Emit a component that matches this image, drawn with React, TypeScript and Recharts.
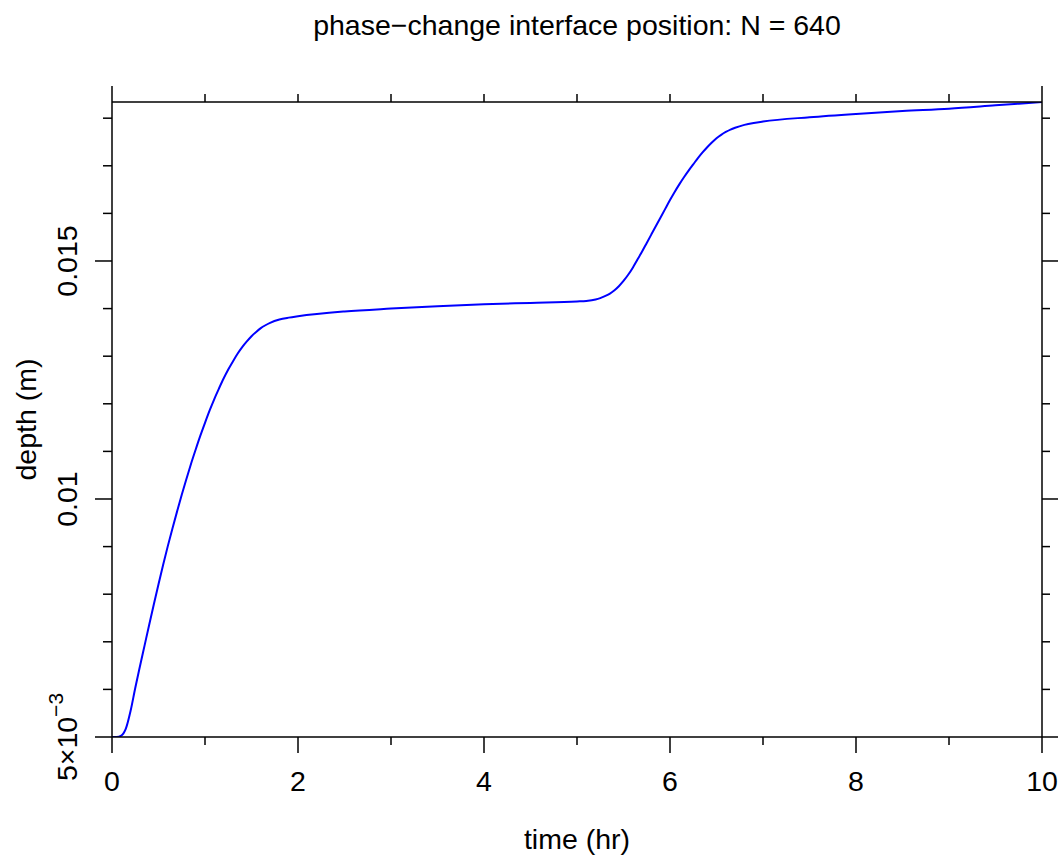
import { LineChart, Line, XAxis, YAxis } from "recharts";

const time = [
  0, 0.05, 0.1, 0.15, 0.2, 0.25, 0.3, 0.35, 0.4, 0.45, 0.5, 0.55, 0.6, 0.65, 0.7, 0.75, 0.8, 0.85, 0.9, 0.95,
  1.0, 1.05, 1.1, 1.15, 1.2, 1.25, 1.3, 1.35, 1.4, 1.45, 1.5, 1.55, 1.6, 1.65, 1.7, 1.8, 1.9, 2.0, 2.5, 3.0,
  3.5, 4.0, 4.5, 5.0, 5.1, 5.2, 5.25, 5.3, 5.35, 5.4, 5.45, 5.5, 5.55, 5.6, 5.65, 5.7, 5.75, 5.8, 5.85, 5.9,
  5.95, 6.0, 6.05, 6.1, 6.15, 6.2, 6.25, 6.3, 6.35, 6.4, 6.45, 6.5, 6.55, 6.6, 6.65, 6.7, 6.8, 6.9, 7.0, 7.5,
  8.0, 8.5, 9.0, 9.5, 10,
];
const depth = [
  0.005, 0.005, 0.00503, 0.00518, 0.00555, 0.00603, 0.00648, 0.00692, 0.00736, 0.00779, 0.00821, 0.00862,
  0.00901, 0.00938, 0.00974, 0.01009, 0.01042, 0.01074, 0.01104, 0.01133, 0.0116, 0.01186, 0.0121, 0.01232,
  0.01253, 0.01272, 0.01289, 0.01305, 0.01319, 0.01331, 0.01342, 0.01351, 0.01359, 0.01365, 0.0137, 0.01377,
  0.01381, 0.01384, 0.01394, 0.014, 0.01405, 0.01409, 0.01412, 0.01415, 0.01416, 0.01419, 0.01422, 0.01426,
  0.01431, 0.01438, 0.01447, 0.01458, 0.01471, 0.01486, 0.01503, 0.0152, 0.01538, 0.01556, 0.01574, 0.01592,
  0.0161, 0.01628, 0.01645, 0.01661, 0.01676, 0.0169, 0.01703, 0.01716, 0.01728, 0.01739, 0.01749, 0.01758,
  0.01765, 0.01771, 0.01776, 0.0178, 0.01786, 0.0179, 0.01793, 0.01802, 0.01809, 0.01815, 0.0182, 0.01827,
  0.01834,
];

const xTicks = [0, 1, 2, 3, 4, 5, 6, 7, 8, 9, 10];
const xLabels = ["0", "2", "4", "6", "8", "10"];
const yTicks = [0.005, 0.006, 0.007, 0.008, 0.009, 0.01, 0.011, 0.012, 0.013, 0.014, 0.015, 0.016, 0.017, 0.018];
const yLabels: Record<string, string> = { "0.01": "0.01", "0.015": "0.015" };

const data = time.map((t, i) => ({ time: t, depth: depth[i] }));

const W = 1059;
const H = 856;
const LEFT = 112;
const RIGHT = 1042;
const TOP = 102;
const BOTTOM = 737;
const FONT = "'Liberation Sans', Arial, Helvetica, sans-serif";
const FS = 28.5;
const SW = 1.5;

const isMajorY = (v: number) => Math.abs(v - 0.005) < 1e-9 || Math.abs(v - 0.01) < 1e-9 || Math.abs(v - 0.015) < 1e-9;

function BottomTick(props: any) {
  const { x, payload } = props;
  const v = payload.value as number;
  const label = xLabels.includes(String(v)) ? String(v) : null;
  return (
    <g>
      <line x1={x} x2={x} y1={BOTTOM} y2={BOTTOM + (label ? 16 : 8)} stroke="#000" strokeWidth={SW} />
      {label && (
        <text x={x} y={791} textAnchor="middle" fontSize={FS} fontFamily={FONT} fill="#000">
          {label}
        </text>
      )}
    </g>
  );
}

function TopTick(props: any) {
  const { x, payload } = props;
  const v = payload.value as number;
  const len = v === 0 || v === 10 ? 16 : 8;
  return <line x1={x} x2={x} y1={TOP} y2={TOP - len} stroke="#000" strokeWidth={SW} />;
}

function LeftTick(props: any) {
  const { y, payload } = props;
  const v = payload.value as number;
  const major = isMajorY(v);
  const key = String(Math.round(v * 1000) / 1000);
  return (
    <g>
      <line x1={LEFT} x2={LEFT - (major ? 17 : 9)} y1={y} y2={y} stroke="#000" strokeWidth={SW} />
      {Math.abs(v - 0.005) < 1e-9 ? (
        <text
          x={77}
          y={y}
          transform={`rotate(-90 77 ${y})`}
          textAnchor="middle"
          fontSize={FS}
          fontFamily={FONT}
          fill="#000"
        >
          5×10
          <tspan dy={-14} fontSize={21}>
            −3
          </tspan>
        </text>
      ) : yLabels[key] ? (
        <text
          x={77}
          y={y}
          transform={`rotate(-90 77 ${y})`}
          textAnchor="middle"
          fontSize={FS}
          fontFamily={FONT}
          fill="#000"
        >
          {yLabels[key]}
        </text>
      ) : null}
    </g>
  );
}

function RightTick(props: any) {
  const { y, payload } = props;
  const major = isMajorY(payload.value as number);
  return <line x1={RIGHT} x2={RIGHT + (major ? 16 : 8)} y1={y} y2={y} stroke="#000" strokeWidth={SW} />;
}

export default function App() {
  return (
    <div style={{ position: "absolute", left: 0, top: 0, width: W, height: H, background: "#fff" }}>
      <LineChart width={W} height={H} data={data} margin={{ top: TOP - 16, right: 0, bottom: 0, left: 0 }}>
        <XAxis
          xAxisId="bottom"
          dataKey="time"
          type="number"
          domain={[0, 10]}
          ticks={xTicks}
          interval={0}
          height={H - BOTTOM}
          tickLine={false}
          tickSize={0}
          tickMargin={0}
          axisLine={{ stroke: "#000", strokeWidth: SW }}
          tick={<BottomTick />}
          allowDataOverflow
        />
        <XAxis
          xAxisId="top"
          orientation="top"
          dataKey="time"
          type="number"
          domain={[0, 10]}
          ticks={xTicks}
          interval={0}
          height={16}
          tickLine={false}
          tickSize={0}
          tickMargin={0}
          axisLine={{ stroke: "#000", strokeWidth: SW }}
          tick={<TopTick />}
          allowDataOverflow
        />
        <YAxis
          yAxisId="left"
          type="number"
          domain={[0.005, 0.01834]}
          ticks={yTicks}
          interval={0}
          width={LEFT}
          tickLine={false}
          tickSize={0}
          tickMargin={0}
          axisLine={{ stroke: "#000", strokeWidth: SW }}
          tick={<LeftTick />}
          allowDataOverflow
        />
        <YAxis
          yAxisId="right"
          orientation="right"
          type="number"
          domain={[0.005, 0.01834]}
          ticks={yTicks}
          interval={0}
          width={W - RIGHT}
          tickLine={false}
          tickSize={0}
          tickMargin={0}
          axisLine={{ stroke: "#000", strokeWidth: SW }}
          tick={<RightTick />}
          allowDataOverflow
        />
        <Line
          xAxisId="top"
          yAxisId="right"
          dataKey="depth"
          stroke="none"
          dot={false}
          activeDot={false}
          isAnimationActive={false}
        />
        <Line
          xAxisId="bottom"
          yAxisId="left"
          type="monotone"
          dataKey="depth"
          stroke="#0000ff"
          strokeWidth={2}
          dot={false}
          activeDot={false}
          isAnimationActive={false}
        />
      </LineChart>
      <svg
        width={W}
        height={H}
        style={{ position: "absolute", left: 0, top: 0, pointerEvents: "none" }}
      >
        <text x={(LEFT + RIGHT) / 2} y={35} textAnchor="middle" fontSize={FS} fontFamily={FONT} fill="#000">
          phase−change interface position: N = 640
        </text>
        <text x={(LEFT + RIGHT) / 2} y={849} textAnchor="middle" fontSize={FS} fontFamily={FONT} fill="#000">
          time (hr)
        </text>
        <text
          x={36}
          y={(TOP + BOTTOM) / 2}
          transform={`rotate(-90 36 ${(TOP + BOTTOM) / 2})`}
          textAnchor="middle"
          fontSize={FS}
          fontFamily={FONT}
          fill="#000"
        >
          depth (m)
        </text>
      </svg>
    </div>
  );
}
